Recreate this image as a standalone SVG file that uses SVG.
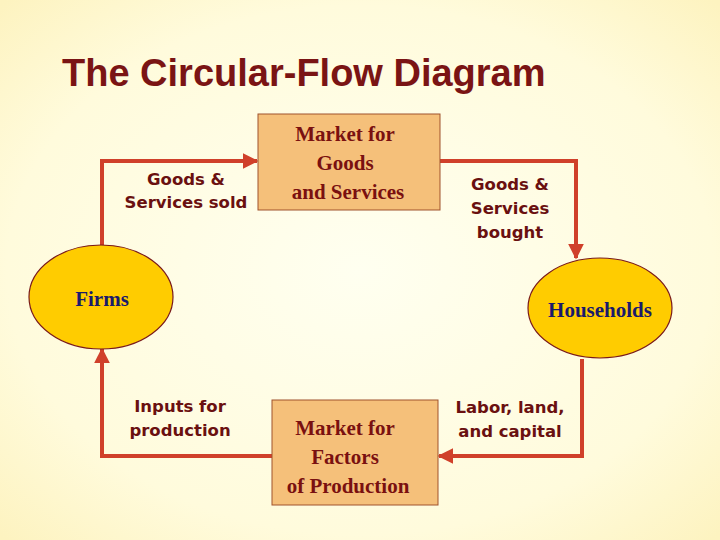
<svg xmlns="http://www.w3.org/2000/svg" width="720" height="540" viewBox="0 0 720 540">
<defs>
<radialGradient id="bg" cx="0.5" cy="0.5" r="0.7"><stop offset="0" stop-color="#fffff0"/><stop offset="0.7" stop-color="#fffbdc"/><stop offset="1" stop-color="#fdf3c0"/></radialGradient>
<marker id="ah" viewBox="0 0 10 10" refX="9" refY="5" markerWidth="4" markerHeight="4" orient="auto"><path d="M0,0 L10,5 L0,10 z" fill="#d0402a"/></marker>
<style>
.conn{fill:none;stroke:#d0402a;stroke-width:4;marker-end:url(#ah)}
.box{fill:#f5c07a;stroke:#a0522d;stroke-width:1}
.ell{fill:#ffcc00;stroke:#7a1a1a;stroke-width:1.2}
.bt{font-family:"Liberation Serif",serif;font-size:21px;font-weight:bold;fill:#7a1010;text-anchor:middle}
.et{font-family:"Liberation Serif",serif;font-size:21px;font-weight:bold;fill:#1a1a6a;text-anchor:middle}
.lt{font-family:"DejaVu Sans",sans-serif;font-size:16.5px;font-weight:bold;fill:#6a1010;text-anchor:middle}
</style>
</defs>
<rect width="720" height="540" fill="url(#bg)"/>
<text x="62" y="86" font-family="Liberation Sans,sans-serif" font-size="38" font-weight="bold" fill="#7a1414">The Circular-Flow Diagram</text>
<g id="connectors">
<path class="conn" d="M102,245 V161 H257"/>
<path class="conn" d="M440,161 H576 V258"/>
<path class="conn" d="M582,359 V456 H439"/>
<path class="conn" d="M272,456 H102 V349"/>
</g>
<g id="market-goods"><rect class="box" x="258" y="114" width="182" height="96"/>
<text class="bt" x="345" y="141">Market for</text><text class="bt" x="345" y="170">Goods</text><text class="bt" x="348" y="199">and Services</text></g>
<g id="market-factors"><rect class="box" x="272" y="400" width="166" height="105"/>
<text class="bt" x="345" y="435">Market for</text><text class="bt" x="345" y="464">Factors</text><text class="bt" x="348" y="493">of Production</text></g>
<g id="firms"><ellipse class="ell" cx="101" cy="297" rx="72" ry="52"/><text class="et" x="102" y="306">Firms</text></g>
<g id="households"><ellipse class="ell" cx="600" cy="308" rx="72" ry="50"/><text class="et" x="600" y="317">Households</text></g>
<g id="labels">
<text class="lt" x="186" y="185">Goods &amp;</text><text class="lt" x="186" y="208">Services sold</text>
<text class="lt" x="510" y="190">Goods &amp;</text><text class="lt" x="510" y="214">Services</text><text class="lt" x="510" y="238">bought</text>
<text class="lt" x="180" y="412">Inputs for</text><text class="lt" x="180" y="436">production</text>
<text class="lt" x="510" y="413">Labor, land,</text><text class="lt" x="510" y="437">and capital</text>
</g>
</svg>
